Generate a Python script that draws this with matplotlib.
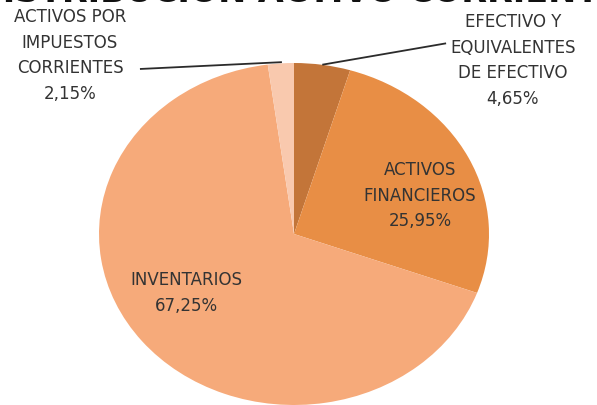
import matplotlib.pyplot as plt

# Datos de la distribucion del activo corriente
categorias = ["EFECTIVO Y\nEQUIVALENTES\nDE EFECTIVO", "ACTIVOS\nFINANCIEROS",
              "INVENTARIOS", "ACTIVOS POR\nIMPUESTOS\nCORRIENTES"]
porcentajes = [4.65, 25.95, 67.25, 2.15]
colores = ["#C37539", "#E88E45", "#F6AA7A", "#F9C9AE"]

# posiciones de las etiquetas (unidades del eje, radio = 1)
pos_etiquetas = [(1.123, 1.02), (0.646, 0.23), (-0.55, -0.34), (-1.149, 1.05)]
# lineas guia: (punto en el borde del pie, punto cerca de la etiqueta)
guias = {0: ((0.145, 0.99), (0.78, 1.115)), 3: ((-0.062, 1.005), (-0.79, 0.965))}

plt.rcParams['font.family'] = ['DejaVu Sans']
txt_color = "#333333"

fig = plt.figure(figsize=(5.97, 4.06), dpi=100)
ax = fig.add_axes([0, 0, 1, 1])

ax.pie(porcentajes, colors=colores, startangle=90, counterclock=False,
       radius=1, wedgeprops=dict(linewidth=0))
ax.set_aspect('auto')
ax.set_xlim(-294 / 195, (597 - 294) / 195)
ax.set_ylim(-171 / 171, (406 - 171) / 171)
ax.axis('off')

for i, (cat, val) in enumerate(zip(categorias, porcentajes)):
    x, y = pos_etiquetas[i]
    etiqueta = cat + "\n" + f"{val:.2f}".replace(".", ",") + "%"
    ax.text(x, y, etiqueta, ha='center', va='center', fontsize=12,
            color=txt_color, linespacing=1.55)
    if i in guias:
        (x0, y0), (x1, y1) = guias[i]
        ax.plot([x0, x1], [y0, y1], color="#2b2b2b", lw=1.3, solid_capstyle='butt')

# titulo cortado en el borde superior, como en la imagen original
fig.text(0.5, 1 - 2 / 406, "DISTRIBUCIÓN ACTIVO CORRIENTE", ha='center', va='baseline',
         fontsize=24, fontweight='bold', color="#111111")

fig.savefig("out.png", dpi=100)
